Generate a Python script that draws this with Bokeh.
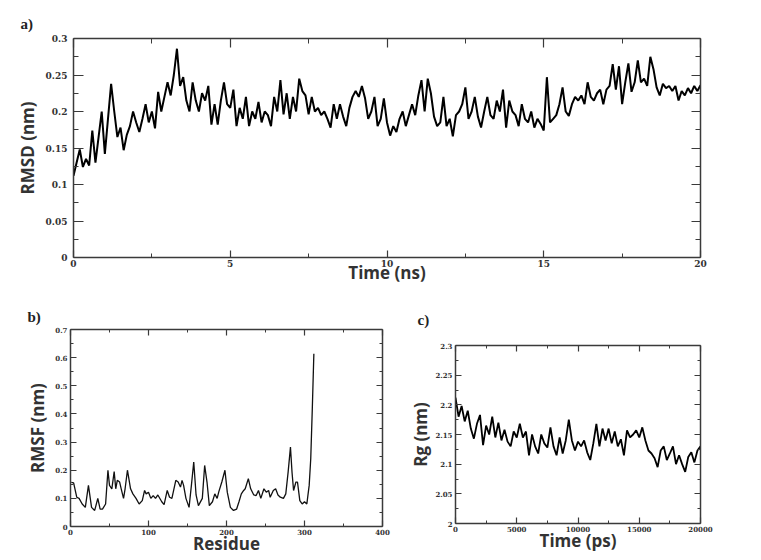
from bokeh.plotting import figure
from bokeh.layouts import column, row
from bokeh.models import LinearAxis, FixedTicker, Range1d
from bokeh.embed import file_html
from bokeh.resources import INLINE

# ---------------- data ----------------
# a) RMSD vs time (ns), sampled every 0.1 ns
rmsd_time = [round(i * 0.1, 1) for i in range(201)]
rmsd_nm = [
    0.112, 0.130, 0.148, 0.124, 0.135, 0.126, 0.174, 0.130, 0.165, 0.200,
    0.142, 0.190, 0.238, 0.200, 0.165, 0.178, 0.147, 0.168, 0.180, 0.200,
    0.185, 0.172, 0.190, 0.210, 0.185, 0.200, 0.177, 0.227, 0.200, 0.220,
    0.240, 0.222, 0.250, 0.286, 0.235, 0.247, 0.215, 0.200, 0.240, 0.215,
    0.200, 0.225, 0.215, 0.235, 0.182, 0.210, 0.182, 0.215, 0.240, 0.210,
    0.205, 0.230, 0.180, 0.205, 0.190, 0.220, 0.180, 0.200, 0.190, 0.213,
    0.185, 0.200, 0.195, 0.180, 0.220, 0.200, 0.243, 0.196, 0.225, 0.190,
    0.220, 0.200, 0.245, 0.228, 0.222, 0.196, 0.220, 0.200, 0.205, 0.195,
    0.200, 0.190, 0.178, 0.210, 0.190, 0.210, 0.193, 0.180, 0.205, 0.220,
    0.228, 0.220, 0.235, 0.218, 0.190, 0.200, 0.220, 0.180, 0.190, 0.218,
    0.185, 0.167, 0.180, 0.172, 0.190, 0.200, 0.180, 0.195, 0.210, 0.195,
    0.222, 0.243, 0.200, 0.245, 0.225, 0.193, 0.180, 0.185, 0.220, 0.180,
    0.190, 0.166, 0.195, 0.200, 0.210, 0.233, 0.190, 0.200, 0.220, 0.193,
    0.178, 0.200, 0.220, 0.195, 0.190, 0.215, 0.200, 0.230, 0.178, 0.215,
    0.200, 0.195, 0.180, 0.210, 0.190, 0.185, 0.200, 0.178, 0.190, 0.183,
    0.174, 0.247, 0.185, 0.190, 0.195, 0.210, 0.233, 0.200, 0.194, 0.210,
    0.220, 0.215, 0.222, 0.210, 0.240, 0.220, 0.215, 0.225, 0.230, 0.210,
    0.230, 0.235, 0.265, 0.230, 0.262, 0.210, 0.240, 0.266, 0.227, 0.240,
    0.270, 0.240, 0.245, 0.235, 0.275, 0.258, 0.233, 0.222, 0.238, 0.232,
    0.235, 0.228, 0.235, 0.215, 0.228, 0.222, 0.232, 0.225, 0.235, 0.228,
    0.236,
]

# b) RMSF per residue
rmsf_residue = [
    1, 4, 8, 11, 15, 19, 23, 27, 31, 35,
    38, 41, 45, 48, 50, 53, 56, 58, 60, 63,
    65, 68, 70, 73, 77, 80, 84, 88, 92, 95,
    97, 100, 103, 106, 109, 112, 117, 120, 124, 127,
    130, 135, 138, 141, 143, 145, 148, 152, 155, 158,
    161, 164, 169, 172, 175, 178, 182, 185, 188, 190,
    194, 198,
    201, 205, 209, 213, 216, 219, 222, 224, 228, 231,
    235, 238, 241, 244, 248, 251, 254, 256, 260, 263,
    266, 269, 273, 276, 279, 282, 284, 286, 289, 291,
    294, 297, 300, 303, 306, 308, 310, 312,
]
rmsf_nm = [
    0.157, 0.155, 0.104, 0.100, 0.080, 0.068, 0.146, 0.068, 0.057, 0.100,
    0.062, 0.062, 0.080, 0.200, 0.146, 0.134, 0.195, 0.134, 0.164, 0.158,
    0.134, 0.100, 0.134, 0.200, 0.134, 0.116, 0.100, 0.080, 0.092, 0.128,
    0.116, 0.122, 0.100, 0.110, 0.100, 0.112, 0.088, 0.078, 0.128, 0.104,
    0.100, 0.164, 0.158, 0.140, 0.164, 0.146, 0.100, 0.068, 0.146, 0.229,
    0.112, 0.074, 0.100, 0.217, 0.158, 0.074, 0.088, 0.116, 0.100, 0.122,
    0.158, 0.200,
    0.122, 0.068, 0.057, 0.062, 0.088, 0.116, 0.128, 0.134, 0.170, 0.134,
    0.112, 0.110, 0.128, 0.100, 0.134, 0.122, 0.128, 0.104, 0.128, 0.134,
    0.112, 0.104, 0.100, 0.116, 0.193, 0.282, 0.193, 0.128, 0.158, 0.158,
    0.092, 0.080, 0.088, 0.080, 0.146, 0.241, 0.418, 0.614,
]

# c) Radius of gyration vs time (ps), sampled every 250 ps
rg_time = [i * 250 for i in range(81)]
rg_nm = [
    2.212, 2.180, 2.198, 2.172, 2.190, 2.160, 2.143, 2.168,
    2.183, 2.132, 2.165, 2.150, 2.180, 2.145, 2.170, 2.140,
    2.158, 2.138, 2.130, 2.155, 2.145, 2.168, 2.145, 2.155,
    2.115, 2.150, 2.130, 2.118, 2.150, 2.135, 2.128, 2.162,
    2.130, 2.115, 2.145, 2.118, 2.140, 2.175, 2.140, 2.123,
    2.138, 2.130, 2.140, 2.120, 2.107, 2.135, 2.168, 2.130,
    2.160, 2.140, 2.160, 2.135, 2.155, 2.130, 2.142, 2.115,
    2.157, 2.145, 2.150, 2.157, 2.145, 2.162, 2.140, 2.123,
    2.118, 2.110, 2.095, 2.123, 2.130, 2.107, 2.118, 2.130,
    2.100, 2.115, 2.100, 2.087, 2.112, 2.120, 2.103, 2.123,
    2.130,
]

# tick values and labels
a_xticks = [0, 5, 10, 15, 20]
a_xminor = [2.5, 7.5, 12.5, 17.5]
a_xlabels = ["0", "5", "10", "15", "20"]
a_yticks = [0, 0.05, 0.1, 0.15, 0.2, 0.25, 0.3]
a_yminor = [0.025, 0.075, 0.125, 0.175, 0.225, 0.275]
a_ylabels = ["0", "0.05", "0.1", "0.15", "0.2", "0.25", "0.3"]

b_xticks = [0, 100, 200, 300, 400]
b_xminor = [50, 150, 250, 350]
b_xlabels = ["0", "100", "200", "300", "400"]
b_yticks = [0, 0.1, 0.2, 0.3, 0.4, 0.5, 0.6, 0.7]
b_yminor = [0.05, 0.15, 0.25, 0.35, 0.45, 0.55, 0.65]
b_ylabels = ["0", "0.1", "0.2", "0.3", "0.4", "0.5", "0.6", "0.7"]

c_xticks = [0, 5000, 10000, 15000, 20000]
c_xminor = [2500, 7500, 12500, 17500]
c_xlabels = ["0", "5000", "10000", "15000", "20000"]
c_yticks = [2.0, 2.05, 2.1, 2.15, 2.2, 2.25, 2.3]
c_yminor = [2.025, 2.075, 2.125, 2.175, 2.225, 2.275]
c_ylabels = ["2", "2.05", "2.1", "2.15", "2.2", "2.25", "2.3"]

AX = "#3a3a3a"
LABEL_FONT = "Open Sans"
TICK_FONT = "DejaVu Serif"


def style_axis(ax, ticks, minor, labels, size, tick_in, minor_in, show, standoff=2):
    ax.ticker = FixedTicker(ticks=ticks, minor_ticks=minor)
    ax.axis_line_color = AX
    ax.axis_line_width = 1.5
    ax.major_tick_line_color = AX
    ax.minor_tick_line_color = AX
    ax.major_tick_line_width = 1.2
    ax.minor_tick_line_width = 1.0
    ax.major_tick_in = tick_in
    ax.major_tick_out = 0
    ax.minor_tick_in = minor_in
    ax.minor_tick_out = 0
    if show:
        ax.major_label_overrides = {t: l for t, l in zip(ticks, labels)}
        ax.major_label_text_font = TICK_FONT
        ax.major_label_text_font_style = "bold"
        ax.major_label_text_color = "#333333"
        ax.major_label_text_font_size = size
        ax.major_label_standoff = standoff
    else:
        ax.major_label_text_color = None
        ax.major_label_text_font_size = "1px"
        ax.major_label_standoff = 0


def style_label(ax, text, size="17px", standoff=0):
    ax.axis_label = text
    ax.axis_label_text_font = LABEL_FONT
    ax.axis_label_text_font_style = "bold"
    ax.axis_label_text_font_size = size
    ax.axis_label_text_color = "#333333"
    ax.axis_label_standoff = standoff


def make_fig(title, w, h, xr, yr, borders, title_offset, title_standoff):
    l, r, t, b = borders
    p = figure(width=w, height=h, x_range=xr, y_range=yr,
               output_backend="svg", toolbar_location=None,
               min_border_left=l, min_border_right=r,
               min_border_top=t, min_border_bottom=b, title=title)
    p.xgrid.visible = False
    p.ygrid.visible = False
    p.outline_line_color = None
    p.title.text_font = "Liberation Serif"
    p.title.text_font_style = "bold"
    p.title.text_font_size = "15px"
    p.title.text_color = "#222222"
    p.title.offset = title_offset
    p.title.standoff = title_standoff
    return p


def mirror(p, xt, xm, yt, ym, tick_in, minor_in):
    top = LinearAxis()
    right = LinearAxis()
    style_axis(top, xt, xm, None, None, tick_in, minor_in, False)
    style_axis(right, yt, ym, None, None, tick_in, minor_in, False)
    p.add_layout(top, "above")
    p.add_layout(right, "right")


# ---------------- panel a ----------------
pa = make_fig("a)", 757, 290, Range1d(0, 20), Range1d(0, 0.3), (73, 57, 38, 33), -53, 13)
pa.line(rmsd_time, rmsd_nm, line_color="black", line_width=2)
ax_bx, ax_ly = pa.xaxis[0], pa.yaxis[0]
style_axis(ax_bx, a_xticks, a_xminor, a_xlabels, "9px", 7, 4, True)
style_axis(ax_ly, a_yticks, a_yminor, a_ylabels, "9px", 10, 5, True, standoff=6)
style_label(ax_bx, "Time (ns)", standoff=-9)
style_label(ax_ly, "RMSD (nm)", standoff=4)
mirror(pa, a_xticks, a_xminor, a_yticks, a_yminor, 9, 5)

# ---------------- panel b ----------------
pb = make_fig("b)", 400, 268, Range1d(0, 400), Range1d(0, 0.7), (70, 18, 39, 32), -43, 9)
pb.line(rmsf_residue, rmsf_nm, line_color="#111111", line_width=1.3)
bx, by = pb.xaxis[0], pb.yaxis[0]
style_axis(bx, b_xticks, b_xminor, b_xlabels, "7px", 6, 3, True)
style_axis(by, b_yticks, b_yminor, b_ylabels, "7px", 6, 3, True, standoff=3)
style_label(bx, "Residue", standoff=-6)
style_label(by, "RMSF (nm)", standoff=3)
mirror(pb, b_xticks, b_xminor, b_yticks, b_yminor, 6, 3)

# ---------------- panel c ----------------
pc = make_fig("c)", 357, 268, Range1d(0, 20000), Range1d(2.0, 2.3), (55, 57, 55, 35), -38, 36)
pc.line(rg_time, rg_nm, line_color="black", line_width=1.8)
cx, cy = pc.xaxis[0], pc.yaxis[0]
style_axis(cx, c_xticks, c_xminor, c_xlabels, "7px", 6, 3, True)
style_axis(cy, c_yticks, c_yminor, c_ylabels, "7px", 6, 3, True, standoff=3)
style_label(cx, "Time (ps)", standoff=-6)
style_label(cy, "Rg (nm)", standoff=0)
mirror(pc, c_xticks, c_xminor, c_yticks, c_yminor, 6, 3)

layout = column(pa, row(pb, column(pc)))
open("out.html", "w").write(file_html(layout, INLINE))
